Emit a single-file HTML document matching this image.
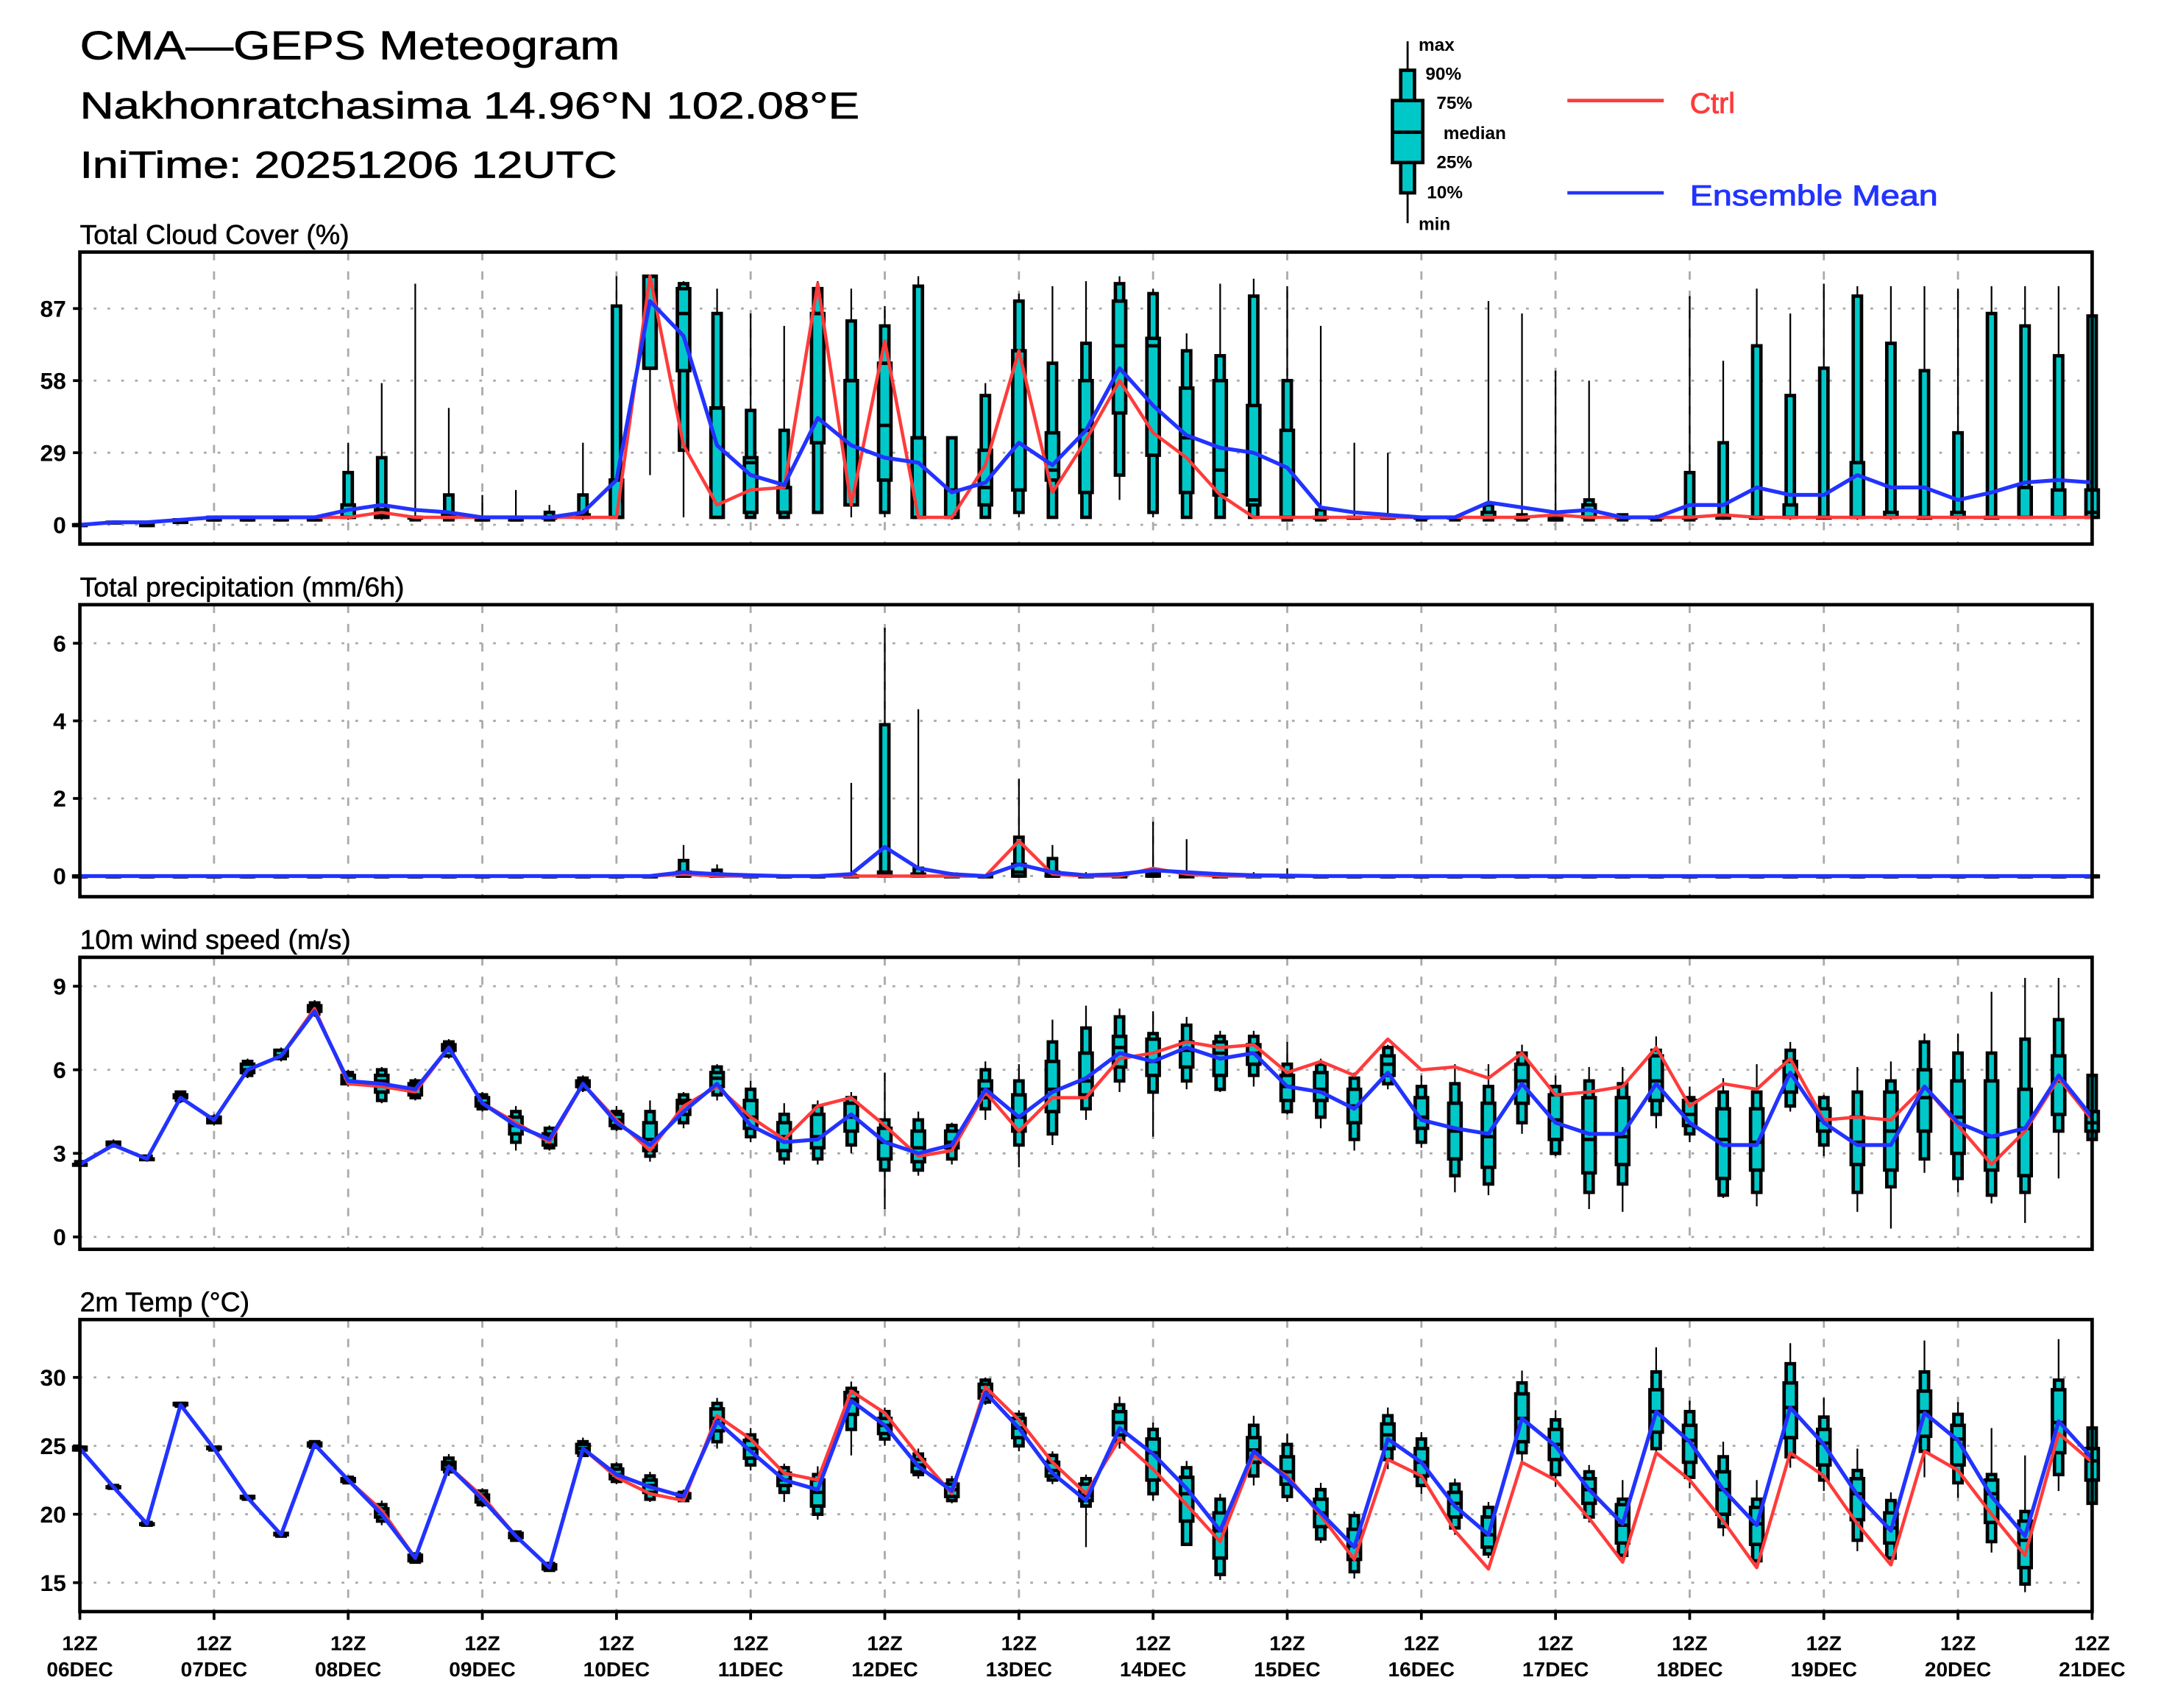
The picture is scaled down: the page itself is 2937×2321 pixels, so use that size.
<!DOCTYPE html>
<html><head><meta charset="utf-8"><title>CMA-GEPS Meteogram</title>
<style>
html,body{margin:0;padding:0;background:#fff;}
svg{display:block;}
text{font-family:"Liberation Sans",sans-serif;}
</style></head>
<body>
<svg id="chart" xmlns="http://www.w3.org/2000/svg" width="2937" height="2321" viewBox="0 0 1569 1240" preserveAspectRatio="none">
<rect x="0" y="0" width="1569" height="1240" fill="#fff"/>
<g>
<text x="58" y="43" font-size="29" textLength="392" lengthAdjust="spacingAndGlyphs" stroke="#000" stroke-width="0.4">CMA—GEPS Meteogram</text>
<text x="58" y="86" font-size="27" textLength="566" lengthAdjust="spacingAndGlyphs" stroke="#000" stroke-width="0.4">Nakhonratchasima 14.96°N 102.08°E</text>
<text x="58" y="129" font-size="27" textLength="390" lengthAdjust="spacingAndGlyphs" stroke="#000" stroke-width="0.4">IniTime: 20251206 12UTC</text>
</g>
<g>
<line x1="1022" y1="30" x2="1022" y2="162" stroke="#000" stroke-width="1.5"/>
<rect x="1017" y="51" width="10" height="89" fill="#00c8c8" stroke="#000" stroke-width="2.5"/>
<rect x="1011" y="73" width="22" height="45" fill="#00c8c8" stroke="#000" stroke-width="2.5"/>
<line x1="1011" y1="96" x2="1033" y2="96" stroke="#000" stroke-width="2.5"/>
<g font-size="13" font-weight="bold">
<text x="1030" y="37">max</text>
<text x="1035" y="58">90%</text>
<text x="1043" y="79">75%</text>
<text x="1048" y="101">median</text>
<text x="1043" y="122">25%</text>
<text x="1036" y="144">10%</text>
<text x="1030" y="167">min</text>
</g>
<line x1="1138" y1="73" x2="1208" y2="73" stroke="#ff3b3b" stroke-width="2.5"/>
<text x="1227" y="82" font-size="21" fill="#ff3b3b" stroke="#ff3b3b" stroke-width="0.5">Ctrl</text>
<line x1="1138" y1="140" x2="1208" y2="140" stroke="#2233ff" stroke-width="2.5"/>
<text x="1227" y="149" font-size="21" fill="#2233ff" stroke="#2233ff" stroke-width="0.5" textLength="180" lengthAdjust="spacingAndGlyphs">Ensemble Mean</text>
</g>
<g id="panels"></g>
</svg>
<script>
// ---------- DATA ----------
const dayLabels = ["06DEC","07DEC","08DEC","09DEC","10DEC","11DEC","12DEC","13DEC","14DEC","15DEC","16DEC","17DEC","18DEC","19DEC","20DEC","21DEC"];
const cloudTicks = [0,29,58,87];
const precipTicks = [0,2,4,6];
const windTicks = [0,3,6,9];
const tempTicks = [15,20,25,30];

const cloudMean = [0,1,1,2,3,3,3,3,6,8,6,5,3,3,3,5,18,90,76,32,20,16,43,32,27,25,13,17,33,24,38,63,48,36,31,29,23,7,5,4,3,3,9,7,5,6,3,3,8,8,15,12,12,20,15,15,10,13,17,18,17];
const cloudCtrl = [0,1,1,2,3,3,3,3,3,5,3,3,3,3,3,3,3,100,32,8,14,15,97,8,74,3,3,24,70,13,34,58,37,27,12,3,3,3,3,3,3,3,3,3,4,3,3,3,3,4,3,3,3,3,3,3,3,3,3,3,3];
const cloudMin = [0,1,0,1,2,2,2,2,2,2,2,2,2,2,2,2,3,20,3,3,3,3,5,3,3,3,2,3,3,3,3,10,3,3,3,3,2,2,3,3,2,2,2,2,2,2,2,2,2,2,2,2,2,2,2,2,2,3,3,3,3];
const cloudP10 = [0,1,0,1,2,2,2,2,3,3,2,2,2,2,2,3,3,63,30,3,3,3,5,8,5,3,3,3,5,3,3,20,5,3,3,3,2,2,3,3,2,2,2,2,2,2,2,2,2,3,3,3,3,3,3,3,3,3,3,3,3];
const cloudP25 = [0,1,0,1,2,2,2,2,3,3,3,3,2,2,3,3,3,63,62,3,5,5,33,8,18,3,3,8,14,18,13,45,28,13,12,8,3,3,3,3,3,3,3,3,2,3,3,3,3,3,3,3,3,3,3,3,3,3,3,3,3];
const cloudMed = [0,1,0,2,2,2,3,3,3,4,3,3,2,2,3,3,3,100,85,47,25,15,85,58,40,35,14,15,70,22,38,72,72,35,22,10,3,3,3,3,3,3,3,3,3,3,3,3,3,3,3,3,3,3,3,3,3,3,3,3,5];
const cloudP75 = [0,1,0,2,3,3,3,3,8,6,3,4,3,3,3,4,18,100,95,47,27,15,85,58,65,35,14,30,70,37,58,90,75,55,58,48,38,3,3,3,3,3,5,3,3,8,3,3,3,3,3,8,3,25,5,3,5,3,15,14,14];
const cloudP90 = [0,1,0,2,3,3,3,3,21,27,3,12,3,3,5,12,88,100,97,85,46,38,95,82,80,96,35,52,90,65,73,97,93,70,68,92,58,6,3,3,3,3,8,4,4,10,4,3,21,33,72,52,63,92,73,62,37,85,80,68,84];
const cloudMax = [0,1,0,2,3,3,3,3,33,57,97,47,12,14,8,33,100,100,98,95,85,80,98,95,88,100,35,57,93,96,98,100,95,77,97,99,96,80,33,29,3,3,90,85,62,58,4,4,92,66,95,85,97,96,96,96,95,96,96,96,84];

const precipMean = [0,0,0,0,0,0,0,0,0,0,0,0,0,0,0,0,0,0,0.1,0.05,0.02,0,0,0.05,0.75,0.2,0.05,0,0.3,0.1,0.02,0.05,0.15,0.1,0.05,0.02,0.01,0,0,0,0,0,0,0,0,0,0,0,0,0,0,0,0,0,0,0,0,0,0,0,0];
const precipCtrl = [0,0,0,0,0,0,0,0,0,0,0,0,0,0,0,0,0,0,0.05,0,0,0,0,0,0,0,0,0,0.9,0.05,0,0,0.2,0.05,0,0,0,0,0,0,0,0,0,0,0,0,0,0,0,0,0,0,0,0,0,0,0,0,0,0,0];
const precipMin = new Array(61).fill(0);
const precipP10 = new Array(61).fill(0);
const precipP25 = new Array(61).fill(0);
const precipMed = [0,0,0,0,0,0,0,0,0,0,0,0,0,0,0,0,0,0,0,0,0,0,0,0,0.05,0,0,0,0.1,0,0,0,0,0,0,0,0,0,0,0,0,0,0,0,0,0,0,0,0,0,0,0,0,0,0,0,0,0,0,0,0];
const precipP75 = [0,0,0,0,0,0,0,0,0,0,0,0,0,0,0,0,0,0,0.1,0.05,0,0,0,0,0.1,0.05,0,0,0.3,0.1,0,0,0.05,0,0,0,0,0,0,0,0,0,0,0,0,0,0,0,0,0,0,0,0,0,0,0,0,0,0,0,0];
const precipP90 = [0,0,0,0,0,0,0,0,0,0,0,0,0,0,0,0,0,0,0.4,0.15,0.02,0,0,0.02,3.9,0.2,0.05,0,1.0,0.45,0.02,0.05,0.15,0.05,0.03,0.02,0.01,0,0,0,0,0,0,0,0,0,0,0,0,0,0,0,0,0,0,0,0,0,0,0,0];
const precipMax = [0,0,0,0,0,0,0,0,0,0,0,0,0,0,0,0,0,0,0.8,0.3,0.05,0,0,2.4,6.4,4.3,0.1,0,2.5,0.8,0.1,0.1,1.4,0.95,0.1,0.1,0.2,0,0,0,0,0,0,0,0,0,0,0,0,0,0,0,0,0,0,0,0,0,0,0,0];

const windMean = [2.6,3.3,2.8,5.0,4.2,6.0,6.5,8.1,5.6,5.5,5.3,6.8,4.8,4.0,3.5,5.5,4.1,3.3,4.5,5.5,4.0,3.4,3.5,4.4,3.4,3.0,3.3,5.3,4.3,5.2,5.7,6.6,6.3,6.8,6.4,6.6,5.4,5.2,4.6,5.9,4.2,3.9,3.7,5.5,4.1,3.7,3.7,5.5,4.1,3.3,3.3,5.9,4.1,3.3,3.3,5.4,4.1,3.6,3.9,5.8,4.3];
const windCtrl = [2.6,3.3,2.8,5.0,4.2,6.0,6.5,8.2,5.5,5.4,5.2,6.8,4.8,4.1,3.4,5.5,4.2,3.1,4.7,5.4,4.3,3.5,4.7,5.0,4.0,2.9,3.1,5.2,3.8,5.0,5.0,6.4,6.6,7.0,6.8,6.9,5.9,6.3,5.8,7.1,6.0,6.1,5.7,6.6,5.1,5.2,5.4,6.8,4.7,5.5,5.3,6.4,4.2,4.3,4.2,5.4,4.0,2.6,3.8,5.7,4.2];
const windMin = [2.5,3.2,2.7,4.8,4.0,5.7,6.3,7.9,5.4,4.8,4.9,6.4,4.5,3.1,3.1,5.2,3.8,2.7,3.9,4.9,3.4,2.6,2.6,3.0,1.0,2.2,2.6,4.2,2.5,3.3,4.2,5.2,3.6,5.3,5.2,5.4,4.4,3.9,3.1,5.3,3.2,1.6,1.5,3.7,2.9,1.0,0.9,3.9,3.4,1.4,1.1,4.5,2.9,0.9,0.3,2.3,1.6,1.2,0.5,2.1,3.4];
const windP10 = [2.6,3.3,2.8,4.9,4.1,5.8,6.4,8.0,5.5,4.9,5.0,6.5,4.6,3.4,3.2,5.3,3.9,2.9,4.1,5.1,3.6,2.8,2.8,3.3,2.4,2.4,2.8,4.6,3.3,3.7,4.6,5.6,5.2,5.6,5.3,5.8,4.5,4.3,3.5,5.5,3.4,2.2,1.9,4.1,3.0,1.6,1.9,4.4,3.7,1.5,1.6,4.7,3.3,1.6,1.8,2.8,2.1,1.5,1.6,3.8,3.5];
const windP25 = [2.6,3.3,2.8,5.0,4.1,5.9,6.5,8.1,5.5,5.2,5.1,6.7,4.7,3.7,3.3,5.4,4.0,3.1,4.4,5.4,3.9,3.1,3.2,3.8,2.8,2.7,3.2,5.0,3.8,4.5,5.1,6.1,5.8,6.1,5.8,6.2,4.9,4.9,4.1,5.8,3.9,2.8,2.5,4.8,3.5,2.3,2.6,4.9,4.0,2.1,2.4,5.2,3.8,2.6,2.4,3.8,3.0,2.4,2.2,4.4,3.8];
const windMed = [2.6,3.3,2.8,5.0,4.2,6.0,6.5,8.2,5.6,5.6,5.4,6.8,4.8,4.0,3.6,5.5,4.2,3.5,4.8,5.7,4.3,3.6,3.6,4.3,3.4,3.2,3.4,5.3,4.3,5.3,5.6,6.8,6.3,6.7,6.6,6.6,5.4,5.3,4.7,6.2,4.3,3.8,3.6,5.6,4.2,3.5,3.6,5.6,4.4,3.5,3.4,5.8,4.2,3.4,3.8,5.0,4.3,3.6,3.9,5.6,4.1];
const windP75 = [2.6,3.4,2.8,5.1,4.3,6.2,6.7,8.3,5.8,5.8,5.5,6.9,5.0,4.3,3.7,5.6,4.4,4.1,4.9,5.9,4.9,4.1,4.4,4.8,3.9,3.8,3.8,5.6,5.1,6.3,6.6,7.2,7.1,7.0,7.0,6.9,5.8,5.9,5.3,6.5,5.0,4.8,4.8,6.2,5.1,5.0,5.0,6.5,4.9,4.6,4.6,6.3,4.6,4.3,5.2,6.0,5.6,5.6,5.3,6.5,4.5];
const windP90 = [2.7,3.4,2.9,5.2,4.3,6.3,6.7,8.4,5.9,6.0,5.6,7.0,5.1,4.5,3.9,5.7,4.5,4.5,5.1,6.1,5.3,4.4,4.7,5.0,4.2,4.2,4.0,6.0,5.6,7.0,7.5,7.9,7.3,7.6,7.2,7.2,6.2,6.2,5.7,6.8,5.4,5.5,5.4,6.6,5.4,5.6,5.5,6.7,5.0,5.2,5.2,6.7,5.0,5.2,5.6,7.0,6.6,6.6,7.1,7.8,5.8];
const windMax = [2.7,3.5,2.9,5.2,4.4,6.4,6.8,8.5,6.0,6.1,5.7,7.1,5.2,4.7,4.0,5.8,4.7,4.9,5.2,6.2,5.6,4.8,4.9,5.2,5.9,4.5,4.1,6.3,6.2,7.8,8.3,8.2,8.1,7.9,7.4,7.4,7.0,6.4,5.9,6.9,5.8,6.2,6.2,6.9,5.8,6.1,6.1,7.2,5.4,5.7,6.2,7.0,5.1,6.1,6.3,7.3,7.3,8.8,9.3,9.3,5.8];

const tempMean = [24.8,22,19.3,28,24.8,21.2,18.5,25.1,22.5,20,16.8,23.5,21.1,18.4,16.1,24.8,22.9,22,21.3,26.8,24.6,22.5,21.8,28.3,26.5,23.5,21.7,28.9,26.3,23,21,26.3,24.4,21.9,18.8,24.6,22.6,20.1,17.6,25.5,23.8,20.6,18.5,27,25,21.8,19.3,27.5,25.3,21.8,19.2,27.8,25.1,21.4,18.8,27.4,25.4,21.3,18.4,26.8,24.1];
const tempCtrl = [24.8,22,19.3,28,24.8,21.2,18.5,25.1,22.5,20.3,16.8,23.5,21.3,18.4,16.1,24.8,22.7,21.5,21.0,27.2,25.5,23,22.5,29,27.4,24.3,21.5,29.3,26.9,23.8,21.5,25.5,23.3,20.7,18.0,24.3,22.8,19.9,16.7,24.0,22.8,18.8,16.0,23.8,22.5,19.7,16.5,24.5,22.5,19.5,16.1,24.5,22.8,19.3,16.3,24.6,23.2,20.0,17.0,25.9,23.8];
const tempMin = [24.6,21.9,19.2,27.9,24.7,21.1,18.4,24.8,22.2,19.2,16.4,22.8,20.5,18,15.8,24.2,22.2,20.9,20.9,24.8,23.2,20.9,19.6,24.3,25.0,22.6,20.8,28.0,24.6,22.2,17.6,24.8,21.0,17.8,15.2,22.1,20.9,17.9,15.3,23.3,21.5,18.5,16.8,23.6,22.0,19.4,16.6,24.5,21.9,18.4,16.3,23.4,21.7,17.3,16.3,22.7,21.2,17.2,14.3,21.7,20.5];
const tempP10 = [24.7,21.9,19.2,27.9,24.7,21.1,18.4,24.9,22.3,19.5,16.5,23.1,20.7,18.1,15.9,24.3,22.4,21.1,21.0,25.3,23.6,21.6,20.0,26.2,25.5,22.9,21,28.2,25,22.5,20.6,25.3,21.5,17.8,15.6,22.8,21.3,18.2,15.8,24,22.1,19,17.1,24.5,22.9,19.8,17,24.8,22.7,19.1,16.6,24.2,22.5,18.1,16.8,24.6,22.3,18,14.9,22.9,20.8];
const tempP25 = [24.7,22,19.3,28,24.8,21.2,18.5,25,22.4,19.8,16.6,23.3,20.9,18.3,16,24.5,22.6,21.6,21.2,26.1,24.1,22.1,20.6,27.3,25.9,23.1,21.3,28.5,25.6,22.8,21,25.8,22.5,19.5,16.8,23.8,22.2,19.1,16.7,24.8,22.8,19.8,17.6,25.3,24,20.8,17.9,26,23.8,20,17.8,25.6,23.6,19.6,17.9,25.7,23.6,19.4,16.1,24.5,22.5];
const tempMed = [24.8,22,19.3,28,24.8,21.2,18.5,25.1,22.5,20.1,16.8,23.6,21.2,18.4,16.1,24.8,22.9,22.1,21.3,27,24.8,22.5,21.6,28.4,26.5,23.6,21.8,29,26.3,23.2,21.4,26.7,24.5,21.5,18.8,24.7,23.1,20.1,17.7,25.8,23.8,20.8,18.5,27,25.1,21.8,19.2,27.5,25.4,21.8,19.3,27.8,25.2,21.5,19,27.5,25.5,21.5,18.1,26.7,23.9];
const tempP75 = [24.9,22,19.3,28.1,24.9,21.3,18.6,25.2,22.6,20.4,17,23.8,21.4,18.6,16.3,25.1,23.3,22.5,21.5,27.7,25.4,23,22.5,28.9,27,24,22.2,29.5,27,23.8,22.2,27.5,25.5,22.7,20.1,25.6,24.2,21.1,18.9,26.6,24.8,21.6,19.8,28.8,26.2,22.6,20.7,29.1,26.5,23.1,20.5,29.6,26.2,22.6,20.1,29,26.5,22.5,19.5,29.1,24.8];
const tempP90 = [24.9,22.1,19.4,28.1,24.9,21.3,18.6,25.3,22.7,20.7,17.1,24.1,21.7,18.7,16.4,25.3,23.6,22.8,21.6,28.1,25.8,23.4,22.9,29.2,27.5,24.4,22.5,29.8,27.3,24.3,22.6,28,26.2,23.4,21.1,26.5,25.1,21.8,19.9,27.2,25.5,22.2,20.5,29.6,26.9,23.1,21.1,30.4,27.5,24.2,21.1,31,27.1,23.2,21,30.4,27.3,22.9,20.2,29.8,26.3];
const tempMax = [25,22.1,19.4,28.2,25,21.4,18.7,25.4,22.8,21,17.2,24.4,21.9,18.8,16.5,25.6,23.8,23.1,21.8,28.5,26.3,23.7,23.5,29.7,27.8,24.8,22.8,30,27.6,24.6,22.9,28.6,26.7,23.9,21.5,27.2,25.9,22.3,20.2,27.8,26,22.6,20.9,30.5,27.6,23.6,22.5,32.2,28.3,25.3,22.5,32.5,28.5,24.8,21.6,32.7,28.2,26.3,24.3,32.8,26.3];

// ---------- GEOMETRY ----------
const NS = "http://www.w3.org/2000/svg";
const X0 = 58, X1 = 1519, NSTEP = 60;
function xOf(i){ return X0 + i*(X1-X0)/NSTEP; }
function mkScale(v0, y0, v1, y1){ return v => y0 + (v - v0)*(y1 - y0)/(v1 - v0); }

const panelDefs = [
  {name:"cloud", title:"Total Cloud Cover (%)", top:183, bottom:395, y:mkScale(0,381,87,224), ticks:cloudTicks,
   mean:cloudMean, ctrl:cloudCtrl, mn:cloudMin, p10:cloudP10, p25:cloudP25, med:cloudMed, p75:cloudP75, p90:cloudP90, mx:cloudMax},
  {name:"precip", title:"Total precipitation (mm/6h)", top:439, bottom:651, y:mkScale(0,636,6,467), ticks:precipTicks,
   mean:precipMean, ctrl:precipCtrl, mn:precipMin, p10:precipP10, p25:precipP25, med:precipMed, p75:precipP75, p90:precipP90, mx:precipMax},
  {name:"wind", title:"10m wind speed (m/s)", top:695, bottom:907, y:mkScale(0,898,9,716), ticks:windTicks,
   mean:windMean, ctrl:windCtrl, mn:windMin, p10:windP10, p25:windP25, med:windMed, p75:windP75, p90:windP90, mx:windMax},
  {name:"temp", title:"2m Temp (°C)", top:958, bottom:1170, y:mkScale(15,1149,30,1000), ticks:tempTicks,
   mean:tempMean, ctrl:tempCtrl, mn:tempMin, p10:tempP10, p25:tempP25, med:tempMed, p75:tempP75, p90:tempP90, mx:tempMax}
];

function el(tag, attrs, parent){
  const e = document.createElementNS(NS, tag);
  for (const k in attrs) e.setAttribute(k, attrs[k]);
  parent.appendChild(e);
  return e;
}

const root = document.getElementById("panels");
panelDefs.forEach(p => {
  const g = el("g", {}, root);
  
  

  const t = el("text", {x:58, y:p.top-6, "font-size":20, stroke:"#000", "stroke-width":0.3}, g);
  
  
  t.textContent = p.title;

  p.ticks.forEach(v => {
    const yy = p.y(v);
    const gl = el("line", {x1:X0, x2:X1, y1:yy, y2:yy, stroke:"#aaa", "stroke-width":1.5, "stroke-dasharray":"2,8"}, g);
    
    
    const tk = el("line", {x1:X0-5, x2:X0, y1:yy, y2:yy, stroke:"#000", "stroke-width":2}, g);
    
    
    const tl = el("text", {x:X0-10, y:yy+6, "font-size":17, "font-weight":"bold", "text-anchor":"end"}, g);
    
    
    tl.textContent = String(v);
  });
  for (let d = 1; d < dayLabels.length - 1; d++){
    const xx = xOf(d*4);
    const vl = el("line", {x1:xx, x2:xx, y1:p.top, y2:p.bottom, stroke:"#aaa", "stroke-width":1.5, "stroke-dasharray":"6,8"}, g);
    
    
  }
  for (let i = 0; i <= NSTEP; i++){
    const xx = xOf(i);
    const bg = el("g", {}, g);
    
    
    el("line", {x1:xx, x2:xx, y1:p.y(p.mx[i]), y2:p.y(p.mn[i]), stroke:"#000", "stroke-width":1.2}, bg);
    const y90 = p.y(p.p90[i]), y10 = p.y(p.p10[i]);
    el("rect", {x:xx-3, y:y90, width:6, height:Math.max(0.5, y10-y90), fill:"#00c8c8", stroke:"#000", "stroke-width":2.5}, bg);
    const y75 = p.y(p.p75[i]), y25 = p.y(p.p25[i]);
    el("rect", {x:xx-4.5, y:y75, width:9, height:Math.max(0.5, y25-y75), fill:"#00c8c8", stroke:"#000", "stroke-width":2.5}, bg);
    const ym = p.y(p.med[i]);
    el("line", {x1:xx-4.5, x2:xx+4.5, y1:ym, y2:ym, stroke:"#000", "stroke-width":2.5}, bg);
  }
  const ptsC = p.ctrl.map((v,i) => xOf(i).toFixed(1) + "," + p.y(v).toFixed(1)).join(" ");
  const lc = el("polyline", {points:ptsC, fill:"none", stroke:"#ff3b3b", "stroke-width":2.4, "stroke-linejoin":"round"}, g);
  
  
  const ptsM = p.mean.map((v,i) => xOf(i).toFixed(1) + "," + p.y(v).toFixed(1)).join(" ");
  const lm = el("polyline", {points:ptsM, fill:"none", stroke:"#2233ff", "stroke-width":2.8, "stroke-linejoin":"round"}, g);
  
  
  const fr = el("rect", {x:X0, y:p.top, width:X1-X0, height:p.bottom-p.top, fill:"none", stroke:"#000", "stroke-width":2.5}, g);
  
  
});

const xg = el("g", {}, root);


dayLabels.forEach((lab, d) => {
  const xx = xOf(d*4);
  const tk = el("line", {x1:xx, x2:xx, y1:1170, y2:1176, stroke:"#000", "stroke-width":2}, xg);
  
  
  const t1 = el("text", {x:xx, y:1198, "font-size":15, "font-weight":"bold", "text-anchor":"middle"}, xg);
  
  
  t1.textContent = "12Z";
  const t2 = el("text", {x:xx, y:1217, "font-size":15, "font-weight":"bold", "text-anchor":"middle"}, xg);
  
  
  t2.textContent = lab;
});
</script>
</body></html>
